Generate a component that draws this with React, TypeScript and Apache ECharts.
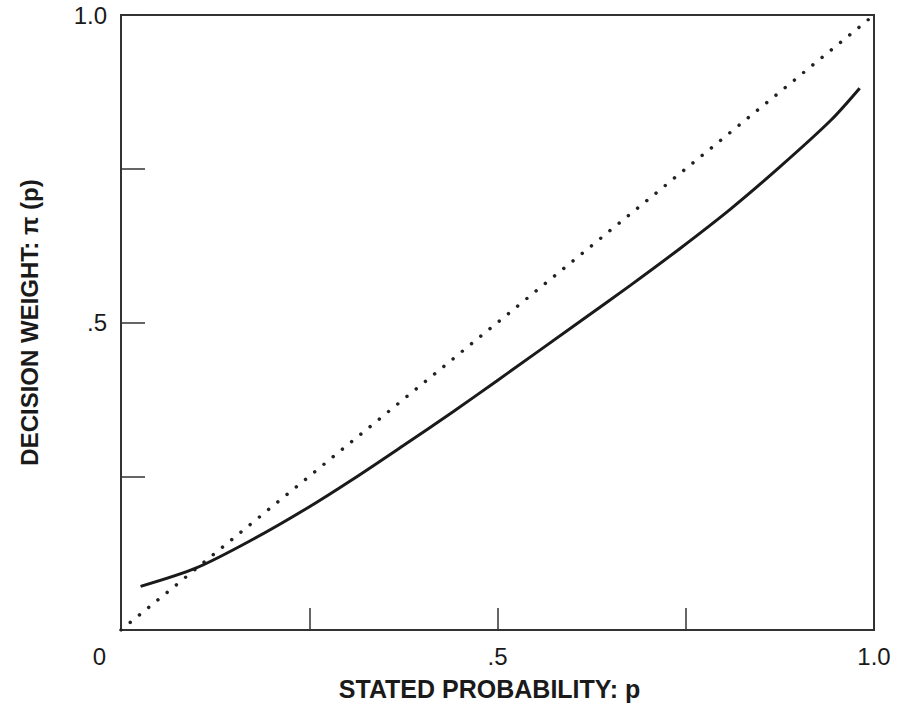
import React, { useEffect, useRef } from "react";
import * as echarts from "echarts";

// Stated probability p and decision weight π(p)
const statedP = [0.026, 0.1, 0.176, 0.247, 0.309, 0.375, 0.441, 0.499, 0.61, 0.676, 0.742, 0.809, 0.875, 0.942, 0.981];
const weightPi = [0.071, 0.101, 0.148, 0.198, 0.246, 0.3, 0.355, 0.405, 0.502, 0.56, 0.62, 0.684, 0.753, 0.828, 0.881];
// Identity line p = π(p)
const diagonalP = [0, 1];
const diagonalPi = [0, 1];
// Tick labels
const xTickLabels: Record<string, string> = { "0": "0", "0.5": ".5", "1": "1.0" };
const yTickLabels: Record<string, string> = { "0.5": ".5", "1": "1.0" };
const xTitle = "STATED PROBABILITY: p";
const yTitle = "DECISION WEIGHT: π (p)";

const FONT = "'Liberation Sans', Arial, Helvetica, sans-serif";
const INK = "#1a1a1a";

export default function App() {
  const ref = useRef<HTMLDivElement>(null);
  useEffect(() => {
    if (!ref.current) return;
    const chart = echarts.init(ref.current, undefined, { renderer: "svg" });
    const curve = statedP.map((p, i) => [p, weightPi[i]]);
    const diag = diagonalP.map((p, i) => [p, diagonalPi[i]]);
    chart.setOption({
      animation: false,
      backgroundColor: "#fff",
      grid: {
        left: 121,
        top: 15,
        right: 24,
        bottom: 73,
        show: true,
        borderColor: "#333",
        borderWidth: 2,
        backgroundColor: "transparent",
      },
      xAxis: {
        type: "value",
        min: 0,
        max: 1,
        interval: 0.25,
        axisLine: { show: false },
        splitLine: { show: false },
        axisTick: { show: true, inside: true, length: 22, lineStyle: { color: "#333", width: 1.5 } },
        axisLabel: {
          show: true,
          margin: 14,
          showMinLabel: true,
          showMaxLabel: true,
          color: INK,
          fontFamily: FONT,
          fontSize: 24,
          formatter: (v: number) => {
            const s = xTickLabels[String(v)];
            if (!s) return "";
            return v === 0 ? "{z|" + s + "}" : s;
          },
          rich: {
            z: { color: INK, fontFamily: FONT, fontSize: 24, padding: [0, 43, 0, 0] },
          },
        },
        name: xTitle,
        nameLocation: "middle",
        nameGap: 46,
        nameTextStyle: {
          color: INK,
          fontFamily: FONT,
          fontWeight: "bold",
          fontSize: 25,
          padding: [0, 16, 0, 0],
        },
      },
      yAxis: {
        type: "value",
        min: 0,
        max: 1,
        interval: 0.25,
        axisLine: { show: false },
        splitLine: { show: false },
        axisTick: { show: true, inside: true, length: 24, lineStyle: { color: "#333", width: 1.5 } },
        axisLabel: {
          show: true,
          margin: 14,
          showMaxLabel: true,
          color: INK,
          fontFamily: FONT,
          fontSize: 24,
          formatter: (v: number) => yTickLabels[String(v)] || "",
        },
        name: yTitle,
        nameLocation: "middle",
        nameGap: 80,
        nameRotate: 90,
        nameTextStyle: {
          color: INK,
          fontFamily: FONT,
          fontWeight: "bold",
          fontSize: 24,
        },
      },
      series: [
        {
          type: "line",
          data: diag,
          symbol: "none",
          silent: true,
          lineStyle: { color: "#222", width: 3.5, type: [0.01, 11.9], cap: "round" },
        },
        {
          type: "line",
          data: curve,
          symbol: "none",
          smooth: 0.3,
          silent: true,
          lineStyle: { color: "#1a1a1a", width: 3 },
        },
      ],
    });
    return () => chart.dispose();
  }, []);
  return (
    <div
      ref={ref}
      style={{ position: "fixed", left: 0, top: 0, width: 898, height: 706, background: "#fff" }}
    />
  );
}
